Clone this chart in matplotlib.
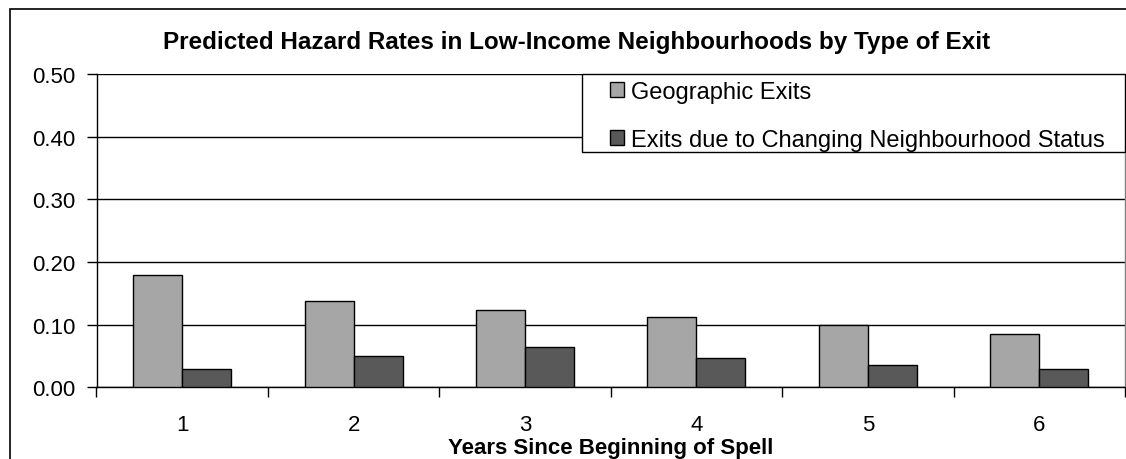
import numpy as np
import matplotlib
matplotlib.use("Agg")
import matplotlib.pyplot as plt
from matplotlib.patches import Rectangle

plt.rcParams['font.family'] = ['Liberation Sans', 'DejaVu Sans']

years = ['1', '2', '3', '4', '5', '6']
geographic = [0.179, 0.138, 0.123, 0.112, 0.100, 0.085]
changing = [0.029, 0.050, 0.064, 0.047, 0.036, 0.029]
yticks = [0.0, 0.1, 0.2, 0.3, 0.4, 0.5]

W, H = 1126, 460
x0, x1, y0, y1 = 96.5, 1125, 74.8, 388.3   # plot area in pixels
fig = plt.figure(figsize=(W / 100, H / 100), dpi=100)
ax = fig.add_axes([x0 / W, (H - y1) / H, (x1 - x0) / W, (y1 - y0) / H])


def ax_xy(px, py):
    return (px - x0) / (x1 - x0), (y1 - py) / (y1 - y0)


x = np.arange(len(years))
bw = 1 / 3.5
ax.bar(x - bw / 2, geographic, bw, color='#a6a6a6', edgecolor='black', linewidth=1.0,
       label='Geographic Exits', zorder=3)
ax.bar(x + bw / 2, changing, bw, color='#595959', edgecolor='black', linewidth=1.0,
       label='Exits due to Changing Neighbourhood Status', zorder=3)

ax.set_xlim(-0.5, len(years) - 0.5)
ax.set_ylim(0, 0.5)
ax.set_yticks(yticks)
ax.set_yticklabels([f'{v:.2f}' for v in yticks])
ax.yaxis.grid(True, color='black', linewidth=1.0, zorder=0)
ax.set_axisbelow(True)

ax.set_xticks(x)
ax.set_xticklabels(years)
ax.set_xticks(np.arange(len(years) + 1) - 0.5, minor=True)
ax.tick_params(axis='x', which='major', length=0, pad=19, labelsize=16)
ax.tick_params(axis='x', which='minor', length=7, width=1, direction='out')
ax.tick_params(axis='y', length=7, width=1, direction='out', pad=8, labelsize=16)

for s in ['left', 'bottom']:
    ax.spines[s].set_color('black')
    ax.spines[s].set_linewidth(1.0)
ax.spines['top'].set_visible(False)
ax.spines['right'].set_color('#808080')
ax.spines['right'].set_linewidth(1.0)

ax.set_xlabel('Years Since Beginning of Spell', fontsize=16, fontweight='bold', labelpad=2)

fig.text(577 / W, 1 - 42 / H, 'Predicted Hazard Rates in Low-Income Neighbourhoods by Type of Exit',
         ha='center', va='center', fontsize=17.5, fontweight='bold')

# legend box drawn separately so the padding can be uneven
bx, by = ax_xy(582, 153)
ax.add_patch(Rectangle((bx, by), 1 - bx, 1 - by, transform=ax.transAxes, facecolor='white',
                       edgecolor='black', linewidth=1.0, zorder=4, clip_on=False))
lx, ly = ax_xy(610, 82)
leg = ax.legend(loc='upper left', bbox_to_anchor=(lx, ly), fontsize=17, frameon=False,
                borderaxespad=0, borderpad=0, handlelength=0.6, handleheight=0.6,
                handletextpad=0.3, labelspacing=1.1)
leg.set_zorder(5)

# outer chart border (left and top edges fall inside the canvas)
fig.patches.append(Rectangle((10 / W, -0.2), 1.2, 1.2 - 10 / H, transform=fig.transFigure,
                             fill=False, edgecolor='black', linewidth=1.2))

fig.savefig('out.png', dpi=100)
